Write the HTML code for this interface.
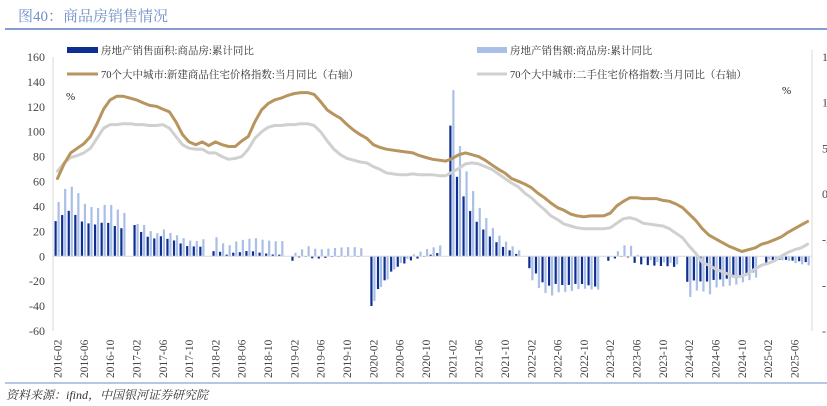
<!DOCTYPE html>
<html><head><meta charset="utf-8">
<style>
html,body{margin:0;padding:0;background:#fff;}
svg{display:block;}
text{font-family:"Liberation Serif","Noto Serif CJK SC","Noto Sans CJK SC",serif;}
</style></head>
<body>
<svg id="chart" width="827" height="406" viewBox="0 0 827 406" xmlns="http://www.w3.org/2000/svg">
  <text x="18" y="21" font-size="15" fill="#6f8fca">图40：商品房销售情况</text>
  <line x1="5" y1="29" x2="827" y2="29" stroke="#5b7fc0" stroke-width="1.5"/>

  <g>
    <g>
      <rect x="67" y="47" width="31" height="6" fill="#0e2f91"/>
      <text x="101" y="54" font-size="10.5" fill="#333">房地产销售面积:商品房:累计同比</text>
    </g>
    <g>
      <rect x="477" y="47" width="30" height="6" fill="#a9bfe8"/>
      <text x="510" y="54" font-size="10.5" fill="#333">房地产销售额:商品房:累计同比</text>
    </g>
    <g>
      <line x1="67" y1="74" x2="98" y2="74" stroke="#b8945e" stroke-width="3"/>
      <text x="101" y="78" font-size="10.5" fill="#333">70个大中城市:新建商品住宅价格指数:当月同比（右轴）</text>
    </g>
    <g>
      <line x1="477" y1="74" x2="507" y2="74" stroke="#d0d0d0" stroke-width="3"/>
      <text x="510" y="78" font-size="10.5" fill="#333">70个大中城市:二手住宅价格指数:当月同比（右轴）</text>
    </g>
  </g>

  <text x="66" y="100" font-size="11" fill="#222">%</text>
  <text x="782" y="94" font-size="11" fill="#222">%</text>

  <line x1="53" y1="57" x2="53" y2="331" stroke="#d9d9d9"/>
  <line x1="812" y1="50" x2="812" y2="331" stroke="#d9d9d9"/>

  <g id="leftTicks"></g>
  <g id="rightTicks"></g>
  <g id="bars"></g>
  <line id="zeroLine" x1="53" x2="812" stroke="#d9d9d9"/>
  <g id="lines"></g>
  <g id="xTicks"></g>

  <line x1="5" y1="383" x2="827" y2="383" stroke="#9fb3dc" stroke-width="1.5"/>
  <text x="6" y="399" font-size="12" font-style="italic" fill="#333">资料来源：ifind，中国银河证券研究院</text>
</svg>
<script>
// months 2016-02 .. 2025-08
const startYear = 2016, startMonth = 2, monthCount = 115;
const leftTicks = [160,140,120,100,80,60,40,20,0,-20,-40,-60];
const rightTicks = [15,10,5,0,-5,-10,-15];
// sales area YoY (cumulative), null for January
const areaYoY = [28.2,33.1,36.5,33.2,27.9,26.4,25.5,26.9,26.8,24.3,22.5,null,
25.1,19.5,15.7,14.3,16.1,14.0,12.7,10.3,8.2,7.9,7.7,null,
4.1,3.6,1.3,2.9,3.3,4.2,4.0,2.9,2.2,1.4,1.3,null,
-3.6,-0.9,-0.3,-1.6,-1.8,-1.3,-0.6,-0.1,0.1,0.2,-0.1,null,
-39.9,-26.3,-19.3,-12.3,-8.4,-5.8,-3.3,-1.8,0.0,1.3,2.6,null,
104.9,63.8,48.1,36.3,27.7,21.5,15.9,11.3,7.5,4.8,1.9,null,
-9.6,-13.8,-20.9,-23.6,-22.2,-23.1,-23.0,-22.2,-22.3,-23.3,-24.3,null,
-3.6,-1.8,-0.4,-0.9,-5.3,-6.5,-7.1,-7.5,-7.8,-8.0,-8.5,null,
-20.5,-19.4,-20.2,-20.3,-19.0,-18.6,-18.0,-17.1,-15.8,-14.3,-12.9,null,
-5.1,-3.0,-2.8,-2.9,-3.5,-4.0,-4.7];
// sales amount YoY (cumulative)
const amountYoY = [43.6,54.1,55.9,50.7,42.1,39.6,38.7,41.3,41.2,37.5,34.8,null,
26.0,25.1,20.2,18.6,21.5,18.8,16.9,14.6,12.6,12.2,13.7,null,
15.3,10.4,8.9,11.8,13.2,14.1,14.5,13.3,12.5,12.1,12.2,null,
2.8,5.6,8.1,6.1,5.6,6.2,6.7,7.1,7.3,7.3,6.5,null,
-35.9,-24.7,-18.6,-10.6,-5.4,-2.1,1.6,3.7,5.8,7.2,8.7,null,
133.4,88.5,68.2,52.4,38.9,30.7,22.8,16.6,11.8,8.0,4.8,null,
-19.3,-25.6,-29.5,-31.5,-28.9,-28.8,-27.9,-26.3,-26.1,-26.6,-26.7,null,
-0.1,4.1,8.8,8.4,1.1,-1.5,-3.2,-4.6,-4.9,-5.2,-6.5,null,
-32.7,-27.6,-28.3,-30.5,-25.0,-24.3,-23.6,-22.7,-20.9,-19.2,-17.1,null,
-2.6,-2.1,-3.2,-3.8,-5.5,-6.5,-7.3];
// new home price YoY (right axis)
const newHomeYoY = [1.7,3.3,4.5,5.0,5.5,6.3,7.7,9.3,10.3,10.7,
10.7,10.5,10.3,10.0,9.7,9.6,9.3,9.0,7.9,6.5,
5.7,5.4,5.7,5.3,5.7,5.4,5.2,5.2,5.8,6.3,
7.9,9.2,9.9,10.3,10.5,10.8,11.0,11.1,11.1,10.9,
10.1,9.2,8.7,8.3,7.6,7.0,6.5,6.1,5.4,5.1,
4.9,4.8,4.7,4.6,4.5,4.2,4.0,3.8,3.7,3.6,
3.9,4.3,4.5,4.3,4.1,3.7,3.2,2.7,2.3,1.7,
1.4,1.1,0.7,0.1,-0.4,-1.0,-1.5,-1.8,-2.2,-2.4,
-2.5,-2.4,-2.4,-2.4,-2.1,-1.3,-0.8,-0.4,-0.4,-0.5,
-0.5,-0.5,-0.7,-0.8,-1.1,-1.5,-2.2,-2.9,-3.8,-4.5,
-4.9,-5.3,-5.7,-6.0,-6.3,-6.1,-5.9,-5.5,-5.3,-5.0,
-4.7,-4.2,-3.8,-3.4,-3.0];
// second-hand price YoY (right axis)
const secondHandYoY = [2.5,3.4,4.0,4.2,4.5,5.0,6.1,7.2,7.6,7.6,
7.7,7.7,7.6,7.6,7.5,7.5,7.6,7.2,6.3,5.4,
5.0,4.9,4.9,4.5,4.5,4.1,3.8,3.9,4.1,4.9,
6.1,6.8,7.3,7.5,7.5,7.6,7.6,7.7,7.7,7.5,
6.8,5.8,4.9,4.3,3.9,3.7,3.5,3.4,3.0,2.7,
2.3,2.2,2.1,2.1,2.2,2.1,2.1,2.1,2.0,2.0,
2.4,2.8,3.3,3.4,3.3,3.0,2.7,2.2,1.7,1.2,
0.8,0.1,-0.4,-1.1,-1.7,-2.4,-2.8,-3.3,-3.5,-3.7,
-3.8,-3.8,-3.8,-3.8,-3.7,-3.2,-2.7,-2.6,-2.8,-3.2,
-3.3,-3.4,-3.5,-3.8,-4.3,-4.8,-5.7,-6.5,-7.5,-7.8,
-8.2,-8.5,-8.8,-9.1,-9.0,-8.7,-8.2,-7.8,-7.6,-7.3,
-6.8,-6.4,-6.1,-5.9,-5.5];

const NS = "http://www.w3.org/2000/svg";
const plotTop = 57, plotBottom = 331;
const xOf = i => 57.5 + i * 6.58;
const yLeft = v => plotTop + (160 - v) / 220 * (plotBottom - plotTop);
const yRight = v => plotTop + (15 - v) / 30 * (plotBottom - plotTop);
function mk(tag, attrs, parent) {
  const el = document.createElementNS(NS, tag);
  for (const k in attrs) el.setAttribute(k, attrs[k]);
  parent.appendChild(el);
  return el;
}
document.getElementById('zeroLine').setAttribute('y1', yLeft(0));
document.getElementById('zeroLine').setAttribute('y2', yLeft(0));

const lt = document.getElementById('leftTicks');
leftTicks.forEach(v => {
  const t = mk('text', {x: 45, y: yLeft(v) + 4, 'text-anchor': 'end', 'font-size': 12, fill: '#444'}, lt);
  
  
  t.textContent = v;
});
const rt = document.getElementById('rightTicks');
rightTicks.forEach(v => {
  const t = mk('text', {x: 822, y: yRight(v) + 4, 'font-size': 12, fill: '#444'}, rt);
  
  
  t.textContent = v;
});

const bars = document.getElementById('bars');
const y0 = yLeft(0);
for (let i = 0; i < monthCount; i++) {
  const x = xOf(i);
  const a = areaYoY[i], b = amountYoY[i];
  if (a !== null && a !== undefined) {
    const y = yLeft(a);
    const r = mk('rect', {x: x - 3, y: Math.min(y, y0), width: 2.2, height: Math.max(Math.abs(y - y0), 0.6), fill: '#0e2f91'}, bars);
    
    
  }
  if (b !== null && b !== undefined) {
    const y = yLeft(b);
    const r = mk('rect', {x: x, y: Math.min(y, y0), width: 2.2, height: Math.max(Math.abs(y - y0), 0.6), fill: '#a9bfe8'}, bars);
    
    
  }
}

const lines = document.getElementById('lines');
function drawLine(arr, color, name) {
  const pts = arr.map((v, i) => xOf(i).toFixed(1) + ',' + yRight(v).toFixed(1)).join(' ');
  const p = mk('polyline', {points: pts, fill: 'none', stroke: color, 'stroke-width': 3, 'stroke-linejoin': 'round', 'stroke-linecap': 'round'}, lines);
  
  
}
drawLine(secondHandYoY, '#d0d0d0', 'line-second-hand-price');
drawLine(newHomeYoY, '#b8945e', 'line-new-home-price');

const xt = document.getElementById('xTicks');
for (let i = 0; i < monthCount; i += 4) {
  const m0 = startMonth - 1 + i;
  const yr = startYear + Math.floor(m0 / 12);
  const mo = (m0 % 12) + 1;
  const label = yr + '-' + (mo < 10 ? '0' + mo : mo);
  const x = xOf(i) + 4;
  const t = mk('text', {x: x, y: 378, 'font-size': 11.5, fill: '#444', 'text-anchor': 'start', transform: 'rotate(-90 ' + x + ' 378)'}, xt);
  
  
  t.textContent = label;
}
</script>
</body></html>
